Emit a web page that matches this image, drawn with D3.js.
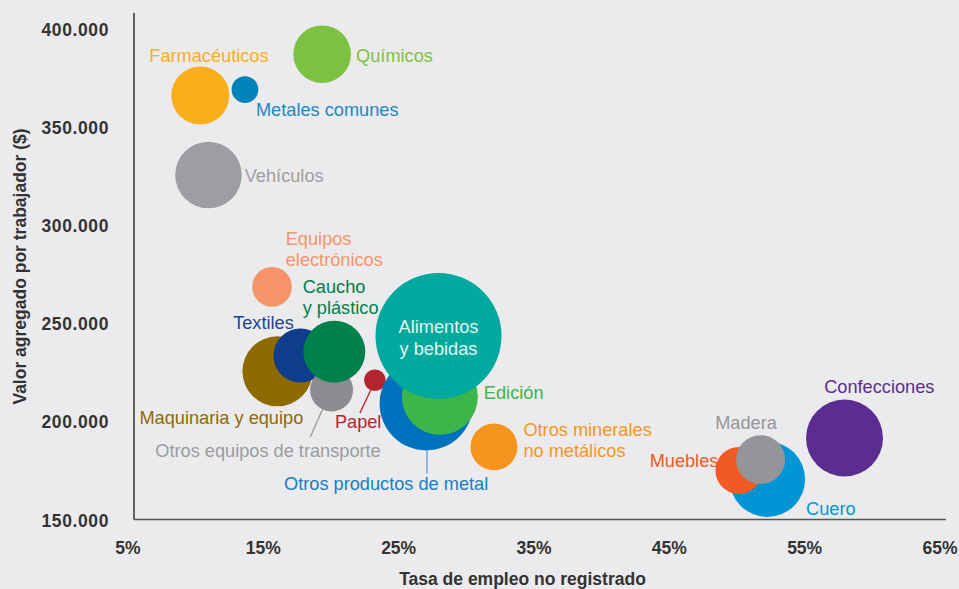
<!DOCTYPE html>
<html><head><meta charset="utf-8">
<script src="https://cdn.jsdelivr.net/npm/d3@7"></script>
<style>
html,body{margin:0;padding:0;background:#ebebed;}
svg{display:block;font-family:"Liberation Sans",Arial,Helvetica,sans-serif;}
</style></head>
<body>
<svg id="chart" width="959" height="589"></svg>
<script>
// ---- data ----
const categories = ["Maquinaria y equipo","Textiles","Otros equipos de transporte","Caucho y plástico",
  "Farmacéuticos","Metales comunes","Químicos","Vehículos","Equipos electrónicos","Papel",
  "Otros productos de metal","Edición","Alimentos y bebidas","Otros minerales no metálicos",
  "Cuero","Muebles","Madera","Confecciones"];
// Tasa de empleo no registrado (%)
const informalRate = [15.6,17.3,19.6,19.8, 9.9,13.2,18.9,10.5,15.2,22.8, 26.6,27.6,27.5,31.6, 51.8,49.7,51.3,57.5];
// Valor agregado por trabajador ($)
const valueAdded = [226000,234000,216500,236000, 366500,369500,387500,326000,269000,221500,
  209500,213000,244000,187500, 171000,175500,181000,192000];
// Tamaño relativo (empleo) – área de la burbuja
const employment = [30.9,18.4,11.6,24.2, 21.2,4.5,20.9,27.9,9.9,2.9, 55,36.4,100,13.9, 35.8,13.9,15.1,37.3];
const xTicks = [5,15,25,35,45,55,65];
const yTicks = [150000,200000,250000,300000,350000,400000];

// ---- styles / layout ----
const fillColor = {
  "Maquinaria y equipo":"#8f6a00","Textiles":"#0d3d8c","Otros equipos de transporte":"#8b8c8f",
  "Caucho y plástico":"#00804a","Farmacéuticos":"#f9ae1b","Metales comunes":"#0083b9",
  "Químicos":"#7dc142","Vehículos":"#9d9ea1","Equipos electrónicos":"#f5946b","Papel":"#b5252f",
  "Otros productos de metal":"#0071bc","Edición":"#3cb54a","Alimentos y bebidas":"#00a99d",
  "Otros minerales no metálicos":"#f7941d","Cuero":"#0096d6","Muebles":"#f15a22",
  "Madera":"#939598","Confecciones":"#5c2d91"};
const labelColor = Object.assign({}, fillColor, {
  "Otros equipos de transporte":"#9a9b9e","Textiles":"#1d4493","Metales comunes":"#1a88c0",
  "Alimentos y bebidas":"#e3f3f1","Otros productos de metal":"#1a7cc4"});
// label lines and offsets from bubble centre (px)
const labelLayout = {
  "Químicos":{dx:34,dy:[1],lines:["Químicos"]},
  "Farmacéuticos":{dx:-51,dy:[-40],lines:["Farmacéuticos"]},
  "Metales comunes":{dx:11,dy:[19.7],lines:["Metales comunes"]},
  "Vehículos":{dx:36.3,dy:[1],lines:["Vehículos"]},
  "Equipos electrónicos":{dx:13.7,dy:[-48,-27],lines:["Equipos","electrónicos"]},
  "Caucho y plástico":{dx:-31.6,dy:[-65.3,-44.3],lines:["Caucho","y plástico"]},
  "Textiles":{dx:-67.3,dy:[-32.7],lines:["Textiles"]},
  "Maquinaria y equipo":{dx:-138,dy:[46.6],lines:["Maquinaria y equipo"]},
  "Otros equipos de transporte":{dx:-176.3,dy:[60.3],lines:["Otros equipos de transporte"],
     leader:[[-9,19.3],[-21.3,47]]},
  "Papel":{dx:-40,dy:[41.3],lines:["Papel"],leader:[[-4,9.6],[-15,33]]},
  "Alimentos y bebidas":{dx:0,anchor:"middle",dy:[-9,12.3],lines:["Alimentos","y bebidas"]},
  "Otros productos de metal":{dx:-142.3,dy:[79.7],lines:["Otros productos de metal"],
     leader:[[0.7,46.7],[0.7,69.7]]},
  "Edición":{dx:44,dy:[-3.7],lines:["Edición"]},
  "Otros minerales no metálicos":{dx:29.4,dy:[-17.7,3.3],lines:["Otros minerales","no metálicos"]},
  "Muebles":{dx:-89.3,dy:[-10],lines:["Muebles"]},
  "Madera":{dx:-45.4,dy:[-37],lines:["Madera"]},
  "Cuero":{dx:38.7,dy:[29],lines:["Cuero"]},
  "Confecciones":{dx:-20.3,dy:[-51.3],lines:["Confecciones"]}
};

const data = categories.map((c,i)=>({name:c,x:informalRate[i],y:valueAdded[i],s:employment[i]}));

const svg = d3.select("#chart");
const x = d3.scaleLinear().domain([5,65]).range([134,946]);
const y = d3.scaleLinear().domain([150000,408500]).range([520.5,13]);
const r = d3.scaleSqrt().domain([0,100]).range([0,63]);

// bubbles
svg.append("g").selectAll("circle").data(data).join("circle")
  .attr("cx",d=>x(d.x)).attr("cy",d=>y(d.y)).attr("r",d=>r(d.s))
  .attr("fill",d=>fillColor[d.name]);

// leader lines
data.forEach(d=>{
  const L = labelLayout[d.name];
  if(L.leader){
    svg.append("line")
      .attr("x1",x(d.x)+L.leader[0][0]).attr("y1",y(d.y)+L.leader[0][1])
      .attr("x2",x(d.x)+L.leader[1][0]).attr("y2",y(d.y)+L.leader[1][1])
      .attr("stroke", d.name==="Otros productos de metal" ? "#5a9fd4" : labelColor[d.name])
      .attr("stroke-width",1.3);
  }
});

// labels
data.forEach(d=>{
  const L = labelLayout[d.name];
  L.lines.forEach((t,k)=>{
    svg.append("text")
      .attr("x",x(d.x)+L.dx).attr("y",y(d.y)+L.dy[k]).attr("dy","0.35em")
      .attr("text-anchor",L.anchor||"start")
      .attr("font-size","18.2px").attr("fill",labelColor[d.name])
      .text(t);
  });
});

// axes
const axisColor = "#333";
svg.append("line").attr("x1",134).attr("x2",134).attr("y1",y.range()[1]).attr("y2",519.5)
  .attr("stroke",axisColor).attr("stroke-width",1.5);
svg.append("line").attr("x1",134).attr("x2",946).attr("y1",519.5).attr("y2",519.5)
  .attr("stroke","#555").attr("stroke-width",1.5);

svg.append("g").selectAll("text").data(yTicks).join("text")
  .attr("x",109).attr("y",d=>y(d)).attr("dy","0.35em").attr("text-anchor","end")
  .attr("font-size","17.5px").attr("font-weight","bold").attr("fill","#333")
  .attr("letter-spacing","0.6px")
  .text(d=>d3.format(",")(d).replace(/,/g,"."));

svg.append("g").selectAll("text").data(xTicks).join("text")
  .attr("x",d=>x(d)-6).attr("y",548).attr("dy","0.35em").attr("text-anchor","middle")
  .attr("font-size","17.5px").attr("font-weight","bold").attr("fill","#333")
  .text(d=>d+"%");

svg.append("text").attr("x",522.5).attr("y",579).attr("dy","0.35em").attr("text-anchor","middle")
  .attr("font-size","17.5px").attr("font-weight","bold").attr("fill","#333")
  .text("Tasa de empleo no registrado");

svg.append("text").attr("transform","translate(20,266.5) rotate(-90)").attr("dy","0.35em")
  .attr("text-anchor","middle")
  .attr("font-size","17.5px").attr("font-weight","bold").attr("fill","#333")
  .text("Valor agregado por trabajador ($)");
</script>
</body></html>
